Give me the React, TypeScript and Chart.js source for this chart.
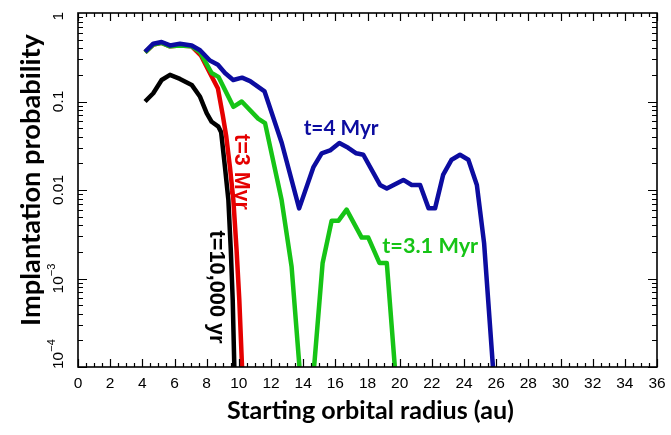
import React, { useEffect, useRef } from "react";
import { Chart, registerables } from "chart.js";

Chart.register(...registerables);

// ---- axis definitions ----
const X_MIN = 0;
const X_MAX = 36;
const Y_MIN = 1e-4;
const Y_MAX = 1;
const xTickValues = [0, 2, 4, 6, 8, 10, 12, 14, 16, 18, 20, 22, 24, 26, 28, 30, 32, 34, 36];
const xTickLabels = ["0", "2", "4", "6", "8", "10", "12", "14", "16", "18", "20", "22", "24", "26", "28", "30", "32", "34", "36"];
const yTickValues = [1e-4, 1e-3, 0.01, 0.1, 1];
const yTickLabels = ["10|-4", "10|-3", "0.01", "0.1", "1"];
const xTitle = "Starting orbital radius (au)";
const yTitle = "Implantation probability";

// ---- series (t = 4 Myr) ----
const blueX = [4.17, 4.68, 5.2, 5.72, 6.34, 7.07, 7.59, 8.2, 8.7, 9.14, 9.65, 10.2, 10.7, 11.6, 12.67, 13.75, 14.63, 15.15, 15.67, 16.25, 16.8, 17.3, 17.74, 18.78, 19.2, 20.23, 20.75, 21.27, 21.8, 22.2, 22.7, 23.23, 23.75, 24.27, 24.8, 25.25, 25.8];
const blueY = [0.365, 0.45, 0.47, 0.43, 0.45, 0.43, 0.38, 0.29, 0.26, 0.21, 0.175, 0.186, 0.17, 0.13, 0.034, 0.0062, 0.018, 0.026, 0.028, 0.034, 0.03, 0.026, 0.025, 0.0114, 0.0104, 0.013, 0.0114, 0.0114, 0.0062, 0.0062, 0.0148, 0.022, 0.025, 0.022, 0.0114, 0.0025, 0.0001];

// ---- series (t = 3.1 Myr) ----
const greenX = [4.17, 4.68, 5.2, 5.72, 6.34, 7.07, 7.59, 8.31, 8.73, 9.66, 10.18, 11.2, 11.63, 12.66, 13.28, 13.77, 14.2, 14.68, 15.21, 15.77, 16.2, 16.7, 17.64, 18.05, 18.74, 19.2, 19.7];
const greenY = [0.36, 0.44, 0.46, 0.42, 0.43, 0.42, 0.36, 0.21, 0.19, 0.087, 0.1, 0.064, 0.057, 0.0077, 0.00136, 0.0001, null, 0.0001, 0.0015, 0.0045, 0.0045, 0.006, 0.0029, 0.0029, 0.0015, 0.0015, 0.0001];

// ---- series (t = 3 Myr) ----
const redX = [4.17, 4.68, 5.2, 5.72, 6.34, 7.07, 7.65, 8.2, 8.7, 9.0, 9.22, 9.45, 9.66, 9.86, 10.03, 10.2];
const redY = [0.36, 0.44, 0.46, 0.42, 0.43, 0.42, 0.33, 0.21, 0.14, 0.07, 0.04, 0.018, 0.0077, 0.0021, 0.00057, 0.0001];

// ---- series (t = 10,000 yr) ----
const blackX = [4.17, 4.68, 5.2, 5.72, 6.34, 7.07, 7.59, 8.0, 8.31, 8.73, 8.9, 9.14, 9.35, 9.5, 9.62, 9.72];
const blackY = [0.1, 0.124, 0.175, 0.2, 0.18, 0.154, 0.113, 0.074, 0.059, 0.052, 0.045, 0.018, 0.0077, 0.0021, 0.00057, 0.0001];

// ---- curve labels (data coordinates) ----
const labelTexts = ["t=4 Myr", "t=3.1 Myr", "t=3 Myr", "t=10,000 yr"];
const labelX = [16.36, 21.9, 10.15, 8.55];
const labelY = [0.05, 0.0023, 0.016, 0.0008];

const BLUE = "#0c0ca0";
const GREEN = "#16c416";
const RED = "#e50000";
const BLACK = "#000000";

const toPoints = (xs: number[], ys: (number | null)[]) => xs.map((x, i) => ({ x, y: ys[i] }));

function fitSize(ctx: CanvasRenderingContext2D, text: string, weight: string, family: string, target: number) {
  ctx.font = `${weight} 100px ${family}`;
  const w = ctx.measureText(text).width;
  return (100 * target) / w;
}

const decorPlugin = {
  id: "decor",
  afterDraw(chart: any) {
    const ctx: CanvasRenderingContext2D = chart.ctx;
    const { left, right, top, bottom } = chart.chartArea;
    const xs = chart.scales.x;
    const ys = chart.scales.y;
    ctx.save();

    // frame
    ctx.strokeStyle = "#000";
    ctx.lineWidth = 1.6;
    ctx.strokeRect(left, top, right - left, bottom - top);

    // x ticks
    ctx.lineWidth = 1.2;
    ctx.beginPath();
    for (let i = 0; i <= (X_MAX - X_MIN) * 2; i++) {
      const v = X_MIN + i * 0.5;
      const px = Math.round(xs.getPixelForValue(v)) + 0.5;
      const len = i % 4 === 0 ? 8 : 4;
      ctx.moveTo(px, bottom);
      ctx.lineTo(px, bottom - len);
      ctx.moveTo(px, top);
      ctx.lineTo(px, top + len);
    }
    // y ticks
    for (let d = -4; d < 0; d++) {
      for (let m = 1; m <= 9; m++) {
        const v = m * Math.pow(10, d);
        const py = Math.round(ys.getPixelForValue(v)) + 0.5;
        const len = m === 1 ? 9 : 5;
        ctx.moveTo(left, py);
        ctx.lineTo(left + len, py);
        ctx.moveTo(right, py);
        ctx.lineTo(right - len, py);
      }
    }
    ctx.stroke();

    // x tick labels
    ctx.fillStyle = "#000";
    ctx.font = "15.5px 'Liberation Sans', Arial, sans-serif";
    ctx.textAlign = "center";
    ctx.textBaseline = "middle";
    xTickValues.forEach((v, i) => {
      ctx.fillText(xTickLabels[i], xs.getPixelForValue(v), bottom + 17);
    });

    // y tick labels (rotated, reading upward)
    yTickValues.forEach((v, i) => {
      const lab = yTickLabels[i];
      const parts = lab.split("|");
      ctx.font = "15.5px 'Liberation Sans', Arial, sans-serif";
      const mainW = ctx.measureText(parts[0]).width;
      let supW = 0;
      if (parts.length > 1) {
        ctx.font = "11px 'Liberation Sans', Arial, sans-serif";
        supW = ctx.measureText(parts[1].replace("-", "\u2212")).width;
      }
      const total = mainW + supW;
      let cy = ys.getPixelForValue(v);
      if (cy + total / 2 > bottom + 2) cy = bottom + 2 - total / 2;
      if (cy - total / 2 < top - 1) cy = top - 1 + total / 2;
      ctx.save();
      ctx.translate(left - 19, cy);
      ctx.rotate(-Math.PI / 2);
      ctx.textAlign = "left";
      ctx.textBaseline = "middle";
      ctx.font = "15.5px 'Liberation Sans', Arial, sans-serif";
      ctx.fillText(parts[0], -total / 2, 0);
      if (parts.length > 1) {
        ctx.font = "11px 'Liberation Sans', Arial, sans-serif";
        ctx.fillText(parts[1].replace("-", "\u2212"), -total / 2 + mainW, -7);
      }
      ctx.restore();
    });

    // axis titles
    const titleFamily = "Lato, 'Open Sans', sans-serif";
    const xs1 = fitSize(ctx, xTitle, "bold", titleFamily, 287);
    ctx.font = `bold ${xs1}px ${titleFamily}`;
    ctx.textAlign = "center";
    ctx.textBaseline = "middle";
    ctx.fillText(xTitle, (left + right) / 2 + 3, 411);

    const ys1 = fitSize(ctx, yTitle, "bold", titleFamily, 292);
    ctx.save();
    ctx.translate(31, 180);
    ctx.rotate(-Math.PI / 2);
    ctx.font = `bold ${ys1}px ${titleFamily}`;
    ctx.fillText(yTitle, 0, 0);
    ctx.restore();

    // curve labels
    const specs = [
      { color: BLUE, weight: "bold", family: titleFamily, width: 75, rot: 0 },
      { color: GREEN, weight: "bold", family: titleFamily, width: 96, rot: 0 },
      { color: RED, weight: "bold", family: "'Liberation Sans', Arial, sans-serif", width: 76, rot: Math.PI / 2 },
      { color: BLACK, weight: "bold", family: "'Liberation Sans', Arial, sans-serif", width: 113, rot: Math.PI / 2 },
    ];
    labelTexts.forEach((t, i) => {
      const s = specs[i];
      const size = fitSize(ctx, t, s.weight, s.family, s.width);
      ctx.save();
      ctx.translate(xs.getPixelForValue(labelX[i]), ys.getPixelForValue(labelY[i]));
      ctx.rotate(s.rot);
      ctx.font = `${s.weight} ${size}px ${s.family}`;
      ctx.fillStyle = s.color;
      ctx.textAlign = "center";
      ctx.textBaseline = "middle";
      ctx.fillText(t, 0, 0);
      ctx.restore();
    });

    ctx.restore();
  },
};

export default function App() {
  const ref = useRef<HTMLCanvasElement>(null);
  useEffect(() => {
    document.body.style.margin = "0";
    const canvas = ref.current!;
    const mk = (label: string, xs: number[], ys: (number | null)[], color: string) => ({
      label,
      data: toPoints(xs, ys),
      borderColor: color,
      backgroundColor: color,
      borderWidth: 4.5,
      pointRadius: 0,
      tension: 0,
      fill: false,
      spanGaps: false,
      borderJoinStyle: "round" as const,
    });
    const chart = new Chart(canvas, {
      type: "line",
      data: {
        datasets: [
          mk("t=4 Myr", blueX, blueY, BLUE),
          mk("t=3.1 Myr", greenX, greenY, GREEN),
          mk("t=3 Myr", redX, redY, RED),
          mk("t=10,000 yr", blackX, blackY, BLACK),
        ],
      },
      options: {
        responsive: false,
        animation: false,
        devicePixelRatio: 1,
        layout: { padding: { left: 78, right: 14, top: 13, bottom: 68 } },
        scales: {
          x: { type: "linear", min: X_MIN, max: X_MAX, display: false },
          y: { type: "logarithmic", min: Y_MIN, max: Y_MAX, display: false },
        },
        plugins: { legend: { display: false }, tooltip: { enabled: false } },
      },
      plugins: [decorPlugin],
    });
    return () => chart.destroy();
  }, []);
  return (
    <div style={{ width: 671, height: 435, background: "#fff" }}>
      <canvas ref={ref} width={671} height={435} style={{ display: "block" }} />
    </div>
  );
}
